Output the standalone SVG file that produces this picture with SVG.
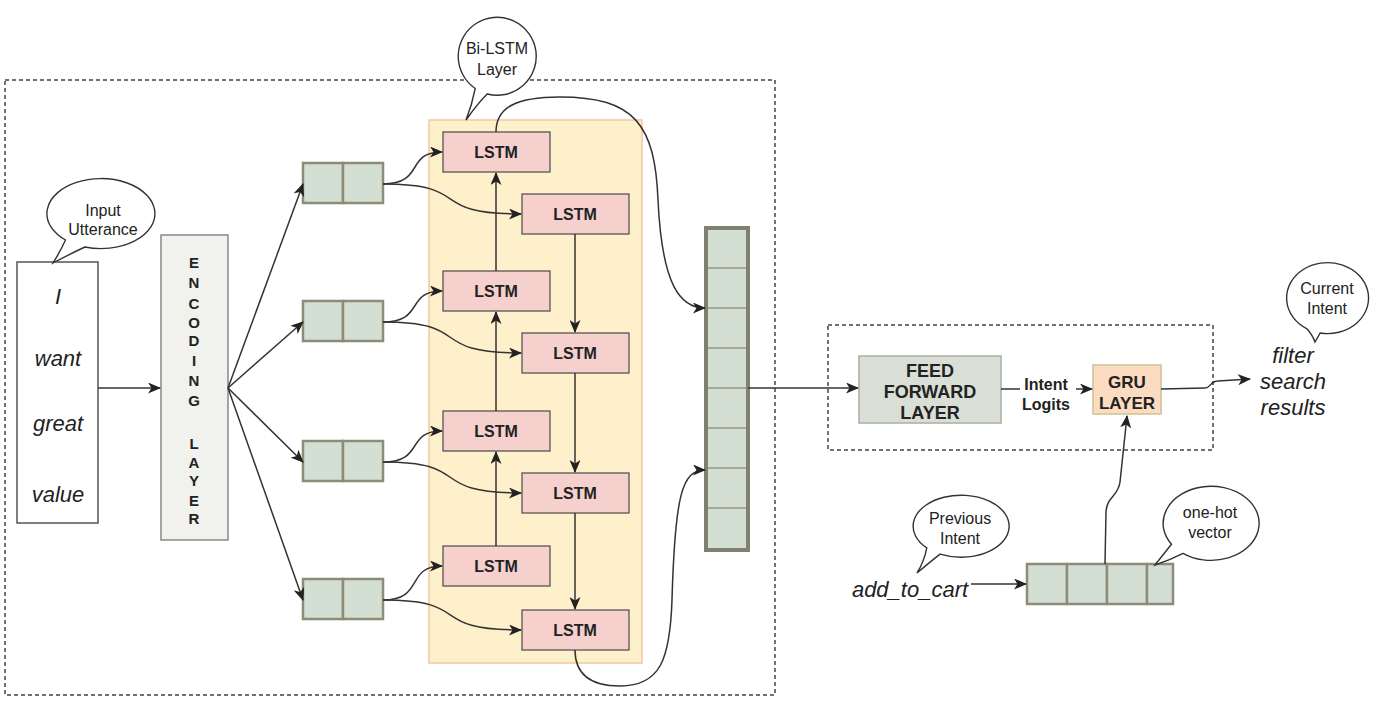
<svg xmlns="http://www.w3.org/2000/svg" width="1400" height="711" viewBox="0 0 1400 711">
<style>
text{font-family:"Liberation Sans",Arial,sans-serif;fill:#222}
.word{font-size:22px;font-style:italic;text-anchor:middle}
.enc{font-size:15px;font-weight:bold;text-anchor:middle}
.lstm rect{fill:#f5d0cc;stroke:#555;stroke-width:1.3}
.lstm text{font-size:16px;font-weight:bold;text-anchor:middle}
.bub{fill:#fff;stroke:#333;stroke-width:1.4}
.bubt{font-size:16px;text-anchor:middle}
.emb{fill:#d3dfd3;stroke:#8c8c78;stroke-width:2.5}
.dash{fill:none;stroke:#444;stroke-width:1.5;stroke-dasharray:4 3}
.con{fill:none;stroke:#333;stroke-width:1.5}
.arr{marker-end:url(#ah)}
.bold{font-weight:bold;text-anchor:middle}
</style>
<defs>
<marker id="ah" markerWidth="13" markerHeight="11" refX="12" refY="5.5" orient="auto" markerUnits="userSpaceOnUse">
<path d="M0,0 L13,5.5 L0,11 L3.5,5.5 z" fill="#222"/>
</marker>
</defs>
<rect width="1400" height="711" fill="#fff"/>

<rect class="dash" x="5" y="80" width="770" height="615"/>
<rect class="dash" x="828" y="325" width="385" height="125"/>

<g id="bilstm-area">
<rect x="429" y="120" width="213" height="543" fill="#fff0cc" stroke="#f0c8a8" stroke-width="1.5"/>
</g>

<g id="input">
<rect x="17" y="262" width="81" height="261" fill="#fff" stroke="#555" stroke-width="1.5"/>
<text class="word" x="58" y="304">I</text>
<text class="word" x="58" y="366">want</text>
<text class="word" x="58" y="431">great</text>
<text class="word" x="58" y="502">value</text>
</g>
<g id="bubble-input">
<path class="bub" d="M84.9,247 A54,35 0 1 0 65.5,240 Q60,252 53,263 Q72,253 84.9,247 Z"/>
<text class="bubt" x="103" y="216">Input</text>
<text class="bubt" x="103" y="235">Utterance</text>
</g>

<g id="encoding">
<rect x="161" y="235" width="67" height="305" fill="#f1f1ee" stroke="#888" stroke-width="1.5"/>
<text class="enc" x="194" y="268">E</text>
<text class="enc" x="194" y="288">N</text>
<text class="enc" x="194" y="309">C</text>
<text class="enc" x="194" y="328">O</text>
<text class="enc" x="194" y="346">D</text>
<text class="enc" x="194" y="366">I</text>
<text class="enc" x="194" y="386">N</text>
<text class="enc" x="194" y="406">G</text>
<text class="enc" x="194" y="449">L</text>
<text class="enc" x="194" y="468">A</text>
<text class="enc" x="194" y="486">Y</text>
<text class="enc" x="194" y="506">E</text>
<text class="enc" x="194" y="524">R</text>
</g>

<g id="emb1"><rect class="emb" x="303" y="163" width="40" height="40"/><rect class="emb" x="343" y="163" width="40" height="40"/></g>
<g id="emb2"><rect class="emb" x="303" y="301" width="40" height="40"/><rect class="emb" x="343" y="301" width="40" height="40"/></g>
<g id="emb3"><rect class="emb" x="303" y="441" width="40" height="40"/><rect class="emb" x="343" y="441" width="40" height="40"/></g>
<g id="emb4"><rect class="emb" x="303" y="579" width="40" height="40"/><rect class="emb" x="343" y="579" width="40" height="40"/></g>

<g id="lstm-l1" class="lstm"><rect x="443" y="132" width="107" height="40"/><text x="496" y="158">LSTM</text></g>
<g id="lstm-l2" class="lstm"><rect x="443" y="271" width="107" height="40"/><text x="496" y="297">LSTM</text></g>
<g id="lstm-l3" class="lstm"><rect x="443" y="411" width="107" height="40"/><text x="496" y="437">LSTM</text></g>
<g id="lstm-l4" class="lstm"><rect x="443" y="546" width="107" height="40"/><text x="496" y="572">LSTM</text></g>
<g id="lstm-r1" class="lstm"><rect x="522" y="194" width="107" height="40"/><text x="575" y="220">LSTM</text></g>
<g id="lstm-r2" class="lstm"><rect x="522" y="333" width="107" height="40"/><text x="575" y="359">LSTM</text></g>
<g id="lstm-r3" class="lstm"><rect x="522" y="473" width="107" height="40"/><text x="575" y="499">LSTM</text></g>
<g id="lstm-r4" class="lstm"><rect x="522" y="610" width="107" height="40"/><text x="575" y="636">LSTM</text></g>

<g id="bubble-bilstm">
<path class="bub" d="M487.2,94 A39,39 0 1 0 475.2,88.5 Q472,105 466,120 Q478,103 487.2,94 Z"/>
<text class="bubt" x="497" y="54">Bi-LSTM</text>
<text class="bubt" x="497" y="75">Layer</text>
</g>

<g id="concat">
<rect x="706" y="228" width="42" height="322" fill="#d3dfd3" stroke="#7f8070" stroke-width="4"/>
<g stroke="#a8a898" stroke-width="2">
<line x1="708" y1="268" x2="746" y2="268"/>
<line x1="708" y1="308" x2="746" y2="308"/>
<line x1="708" y1="348" x2="746" y2="348"/>
<line x1="708" y1="388" x2="746" y2="388"/>
<line x1="708" y1="428" x2="746" y2="428"/>
<line x1="708" y1="468" x2="746" y2="468"/>
<line x1="708" y1="508" x2="746" y2="508"/>
</g>
</g>

<g id="feedforward">
<rect x="859" y="356" width="142" height="67" fill="#d9dfd6" stroke="#aab0a0" stroke-width="1.5"/>
<text class="bold" x="930" y="377" font-size="18">FEED</text>
<text class="bold" x="930" y="398" font-size="18">FORWARD</text>
<text class="bold" x="930" y="419" font-size="18">LAYER</text>
</g>
<text class="bold" x="1046" y="390" font-size="16">Intent</text>
<text class="bold" x="1046" y="410" font-size="16">Logits</text>

<g id="gru">
<rect x="1093" y="365" width="68" height="49" fill="#fbdcc0" stroke="#d0c098" stroke-width="1.5"/>
<text class="bold" x="1127" y="388" font-size="17">GRU</text>
<text class="bold" x="1127" y="409" font-size="17">LAYER</text>
</g>

<g id="output">
<text class="word" x="1293" y="363">filter</text>
<text class="word" x="1293" y="389">search</text>
<text class="word" x="1293" y="415">results</text>
</g>
<g id="bubble-current">
<path class="bub" d="M1320.1,333 A41,35.5 0 1 0 1307,328.8 Q1313,336 1315,342 Q1318,337 1320.1,333 Z"/>
<text class="bubt" x="1327" y="294">Current</text>
<text class="bubt" x="1327" y="314">Intent</text>
</g>

<g id="prev-intent">
<text class="word" x="910" y="597">add_to_cart</text>
</g>
<g id="bubble-previous">
<path class="bub" d="M940.1,554.1 A48,31 0 1 0 926.8,547.9 Q924,562 917,573 Q930,562 940.1,554.1 Z"/>
<text class="bubt" x="960" y="524">Previous</text>
<text class="bubt" x="960" y="544">Intent</text>
</g>

<g id="onehot">
<rect class="emb" x="1027" y="564" width="40" height="40"/>
<rect class="emb" x="1067" y="564" width="40" height="40"/>
<rect class="emb" x="1107" y="564" width="40" height="40"/>
<rect class="emb" x="1147" y="564" width="26" height="40"/>
</g>
<g id="bubble-onehot">
<path class="bub" d="M1183,553.3 A48,37 0 1 0 1171.5,544.2 Q1162,556 1155,565 Q1170,560 1183,553.3 Z"/>
<text class="bubt" x="1210" y="518">one-hot</text>
<text class="bubt" x="1210" y="538">vector</text>
</g>

<g id="connectors">
<path class="con arr" d="M98,388 L160,388"/>
<path class="con arr" d="M228,388 L303,184"/>
<path class="con arr" d="M228,388 L303,322"/>
<path class="con arr" d="M228,388 L303,462"/>
<path class="con arr" d="M228,388 L303,600"/>

<path class="con arr" d="M383,184 C425,184 405,152 442,152"/>
<path class="con arr" d="M383,184 C475,184 425,214 521,214"/>
<path class="con arr" d="M383,322 C425,322 405,291 442,291"/>
<path class="con arr" d="M383,322 C475,322 425,353 521,353"/>
<path class="con arr" d="M383,462 C425,462 405,431 442,431"/>
<path class="con arr" d="M383,462 C475,462 425,493 521,493"/>
<path class="con arr" d="M383,600 C425,600 405,566 442,566"/>
<path class="con arr" d="M383,600 C475,600 425,630 521,630"/>

<path class="con arr" d="M496,271 L496,173"/>
<path class="con arr" d="M496,411 L496,312"/>
<path class="con arr" d="M496,546 L496,452"/>
<path class="con arr" d="M575,234 L575,332"/>
<path class="con arr" d="M575,373 L575,472"/>
<path class="con arr" d="M575,513 L575,609"/>

<path class="con arr" d="M496,132 C496,108 515,97 560,97 C635,97 655,125 658,200 C662,285 680,308 705,308"/>
<path class="con arr" d="M575,650 C575,678 595,686 620,686 C660,686 670,660 672,600 C675,495 682,470 705,470"/>

<path class="con arr" d="M748,388 L858,388" stroke="#777"/>
<path class="con" d="M1001,389 L1020,389" stroke="#777"/>
<path class="con arr" d="M1076,389 L1092,389"/>
<path class="con arr" d="M1161,389 L1205,388 C1211,388 1210,381 1218,381 L1250,379"/>
<path class="con arr" d="M971,584 L1026,584"/>
<path class="con arr" d="M1105,564 L1106,512 C1107,496 1118,497 1120,482 L1127,416"/>
</g>
</svg>
